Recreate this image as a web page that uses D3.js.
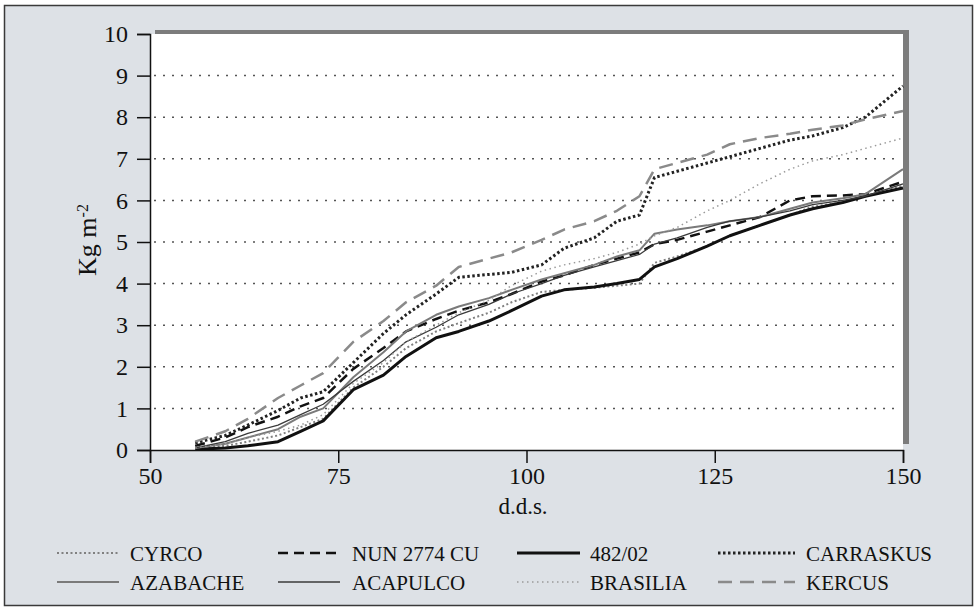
<!DOCTYPE html>
<html>
<head>
<meta charset="utf-8">
<script src="https://cdn.jsdelivr.net/npm/d3@7"></script>
<style>
    body { margin: 0; background: #ffffff; }
    svg { display: block; font-family: "Liberation Serif", "Times New Roman", Times, serif; }
</style>
</head>
<body>
<div id="chart"></div>
<script>
// Days after sowing (shared x values for every series)
const dds = [56, 60, 63, 67, 70, 73, 77, 81, 84, 88, 91, 95, 98, 102, 105, 109, 112, 115, 117, 120, 124, 127, 131, 135, 138, 142, 145, 150];

// Dry matter, Kg m-2, one array per variety
const cyrco     = [0.05, 0.1, 0.2, 0.35, 0.55, 0.75, 1.5, 2.0, 2.45, 2.85, 3.05, 3.3, 3.55, 3.8, 3.85, 3.9, 3.95, 4.0, 4.5, 4.65, 4.9, 5.15, 5.4, 5.65, 5.85, 5.95, 6.1, 6.35];
const nun2774   = [0.1, 0.3, 0.55, 0.8, 1.05, 1.25, 1.95, 2.45, 2.85, 3.15, 3.35, 3.55, 3.75, 4.05, 4.2, 4.45, 4.6, 4.75, 4.95, 5.05, 5.25, 5.4, 5.6, 6.0, 6.1, 6.12, 6.15, 6.45];
const l48202    = [0.02, 0.05, 0.1, 0.2, 0.45, 0.7, 1.45, 1.8, 2.25, 2.7, 2.85, 3.1, 3.35, 3.7, 3.85, 3.92, 4.0, 4.1, 4.4, 4.6, 4.9, 5.15, 5.4, 5.65, 5.8, 5.95, 6.1, 6.3];
const carraskus = [0.17, 0.35, 0.6, 0.95, 1.25, 1.4, 2.1, 2.8, 3.25, 3.75, 4.15, 4.22, 4.27, 4.45, 4.85, 5.1, 5.5, 5.65, 6.55, 6.7, 6.9, 7.05, 7.25, 7.45, 7.55, 7.75, 8.0, 8.75];
const azabache  = [0.05, 0.15, 0.3, 0.5, 0.8, 1.0, 1.75, 2.35, 2.85, 3.25, 3.45, 3.65, 3.85, 4.1, 4.25, 4.45, 4.65, 4.8, 5.2, 5.3, 5.4, 5.5, 5.6, 5.8, 5.95, 6.05, 6.15, 6.75];
const acapulco  = [0.05, 0.2, 0.4, 0.6, 0.85, 1.1, 1.65, 2.15, 2.6, 2.95, 3.25, 3.5, 3.75, 4.0, 4.2, 4.4, 4.55, 4.7, 4.95, 5.1, 5.35, 5.5, 5.6, 5.75, 5.9, 6.0, 6.1, 6.4];
const brasilia  = [0.05, 0.15, 0.3, 0.45, 0.6, 0.85, 1.6, 2.1, 2.6, 3.0, 3.3, 3.6, 3.95, 4.3, 4.45, 4.6, 4.75, 4.95, 5.15, 5.35, 5.75, 6.0, 6.4, 6.75, 6.95, 7.1, 7.25, 7.5];
const kercus    = [0.2, 0.45, 0.75, 1.25, 1.55, 1.85, 2.6, 3.1, 3.55, 3.95, 4.4, 4.6, 4.75, 5.05, 5.3, 5.5, 5.75, 6.1, 6.75, 6.9, 7.1, 7.35, 7.5, 7.6, 7.7, 7.8, 7.95, 8.15];

const xTicks = [50, 75, 100, 125, 150];
const yTicks = [0, 1, 2, 3, 4, 5, 6, 7, 8, 9, 10];

// Series in legend order (row by row)
const series = [
    { name: "CYRCO",       values: cyrco,     color: "#808080", width: 2,   dash: "2,2.5" },
    { name: "NUN 2774 CU", values: nun2774,   color: "#111111", width: 2.5, dash: "10,6" },
    { name: "482/02",      values: l48202,    color: "#111111", width: 3,   dash: null },
    { name: "CARRASKUS",   values: carraskus, color: "#222222", width: 3,   dash: "2.5,2.5" },
    { name: "AZABACHE",    values: azabache,  color: "#7a7a7a", width: 2,   dash: null },
    { name: "ACAPULCO",    values: acapulco,  color: "#3a3a3a", width: 1.3, dash: null },
    { name: "BRASILIA",    values: brasilia,  color: "#9a9a9a", width: 1.5, dash: "1.5,3.5" },
    { name: "KERCUS",      values: kercus,    color: "#8a8a8a", width: 2.5, dash: "14,8" }
];

drawChart();

function drawChart() {
    const W = 977, H = 611;
    const plot = { left: 150, top: 34, right: 903, bottom: 450 };
    const serifFont = "'Liberation Serif', 'Times New Roman', Times, serif";

    const svg = d3.select("#chart")
        .append("svg")
        .attr("width", W)
        .attr("height", H);

    // Outer panel
    svg.append("rect")
        .attr("x", 4.5).attr("y", 5.5)
        .attr("width", W - 9).attr("height", H - 11)
        .attr("fill", "#dde1e6")
        .attr("stroke", "#3a3a3a")
        .attr("stroke-width", 1.5);

    const x = d3.scaleLinear().domain([50, 150]).range([plot.left, plot.right]);
    const y = d3.scaleLinear().domain([0, 10]).range([plot.bottom, plot.top]);

    // Shadow on top and right of the plot frame
    svg.append("rect")
        .attr("x", plot.left + 5).attr("y", plot.top - 4)
        .attr("width", plot.right - plot.left + 1).attr("height", plot.bottom - plot.top - 2)
        .attr("fill", "#7c7c7c");

    // White plot area
    svg.append("rect")
        .attr("x", plot.left).attr("y", plot.top)
        .attr("width", plot.right - plot.left).attr("height", plot.bottom - plot.top)
        .attr("fill", "#ffffff");

    // Dotted grid lines
    svg.append("g")
        .selectAll("line")
        .data(yTicks.filter(d => d > 0 && d < 10))
        .enter()
        .append("line")
        .attr("x1", plot.left + 4)
        .attr("x2", plot.right - 4)
        .attr("y1", d => y(d))
        .attr("y2", d => y(d))
        .attr("stroke", "#555")
        .attr("stroke-width", 1.5)
        .attr("stroke-dasharray", "2,7");

    // Lines
    const line = d3.line()
        .x((d, i) => x(dds[i]))
        .y(d => y(d));

    svg.append("g")
        .selectAll("path")
        .data(series)
        .enter()
        .append("path")
        .attr("d", d => line(d.values))
        .attr("fill", "none")
        .attr("stroke", d => d.color)
        .attr("stroke-width", d => d.width)
        .attr("stroke-dasharray", d => d.dash)
        .attr("stroke-linejoin", "round");

    // Axes
    const yAxis = svg.append("g")
        .attr("transform", `translate(${plot.left},0)`)
        .call(d3.axisLeft(y).tickValues(yTicks).tickSize(13).tickPadding(9));

    const xAxis = svg.append("g")
        .attr("transform", `translate(0,${plot.bottom})`)
        .call(d3.axisBottom(x).tickValues(xTicks).tickSize(13).tickPadding(4));

    [yAxis, xAxis].forEach(function(ax) {
        ax.attr("font-family", serifFont);
        ax.select(".domain").attr("stroke", "#111").attr("stroke-width", 1.5);
        ax.selectAll(".tick line").attr("stroke", "#111").attr("stroke-width", 1.5);
        ax.selectAll(".tick text")
            .attr("fill", "#111")
            .style("font-family", serifFont)
            .style("font-size", "24px");
    });

    // Axis labels
    const yLabel = svg.append("text")
        .attr("transform", "translate(96,240) rotate(-90)")
        .attr("text-anchor", "middle")
        .attr("fill", "#111")
        .style("font-size", "26px");
    yLabel.append("tspan").text("Kg m");
    yLabel.append("tspan")
        .attr("baseline-shift", "super")
        .style("font-size", "16px")
        .text("-2");

    svg.append("text")
        .attr("x", 523)
        .attr("y", 514)
        .attr("text-anchor", "middle")
        .attr("fill", "#111")
        .style("font-size", "23px")
        .text("d.d.s.");

    // Legend, 4 columns by 2 rows
    const symX = [57, 278, 517, 718];
    const symLen = [62, 62, 63, 77];
    const textX = [130, 352, 590, 806];
    const rowY = [553, 582];
    const legend = svg.append("g")
        .selectAll("g")
        .data(series)
        .enter()
        .append("g")
        .attr("transform", (d, i) => `translate(0,${rowY[Math.floor(i / 4)]})`);

    legend.append("line")
        .attr("x1", (d, i) => symX[i % 4])
        .attr("x2", (d, i) => symX[i % 4] + symLen[i % 4])
        .attr("y1", 0).attr("y2", 0)
        .attr("stroke", d => d.color)
        .attr("stroke-width", d => d.width)
        .attr("stroke-dasharray", d => d.dash);

    legend.append("text")
        .attr("x", (d, i) => textX[i % 4])
        .attr("y", 7.5)
        .attr("fill", "#111")
        .style("font-size", "21px")
        .text(d => d.name);
}
</script>
</body>
</html>
